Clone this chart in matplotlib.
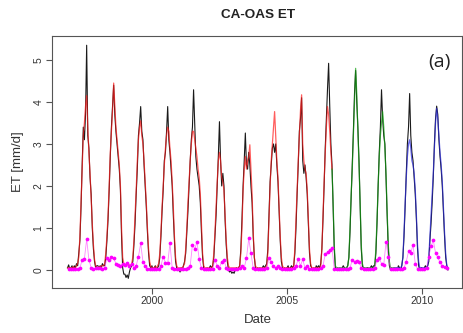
import matplotlib
matplotlib.use('Agg')
import matplotlib.pyplot as plt
import numpy as np

# Semi-monthly series (24 per year), starting at 1996.875
obs_start = 1996.875
et_obs = [
    0.05, 0.12, 0.02,  # 1996 tail
    0.05, 0.1, 0.0, 0.1, 0.05, 0.15, 0.1, 0.4, 0.7, 1.5, 2.5, 3.4, 3.1, 3.7, 5.35, 3.2, 2.9, 2.2, 1.8, 1.0, 0.5, 0.2, 0.05, 0.1,  # 1997
    0.1, 0.05, 0.1, 0.05, 0.15, 0.1, 0.1, 0.3, 0.7, 1.2, 1.9, 2.7, 3.4, 3.9, 4.4, 3.7, 3.3, 3.0, 2.7, 2.4, 1.9, 0.8, 0.05, -0.1,  # 1998
    -0.1, -0.18, -0.12, -0.2, -0.05, 0.05, 0.1, 0.2, 0.6, 1.1, 1.8, 2.4, 3.2, 3.5, 3.89, 3.3, 3.1, 2.5, 2.0, 1.5, 0.9, 0.4, 0.1, 0.05,  # 1999
    0.1, 0.0, 0.05, 0.1, 0.0, 0.05, 0.1, 0.3, 0.8, 1.4, 1.9, 2.6, 2.8, 3.3, 3.89, 3.1, 2.8, 2.4, 2.0, 1.3, 0.7, 0.2, 0.05, 0.0,  # 2000
    0.0, -0.05, 0.05, 0.0, 0.1, 0.2, 0.4, 0.9, 1.4, 2.0, 2.6, 3.1, 3.4, 4.29, 3.5, 2.7, 2.4, 2.2, 2.0, 1.6, 0.9, 0.3, 0.05, 0.0,  # 2001
    0.0, 0.05, 0.0, 0.05, 0.1, 0.05, 0.1, 0.3, 0.8, 1.3, 2.0, 2.7, 3.53, 2.6, 2.0, 2.3, 2.0, 1.2, 0.6, 0.2, 0.0, -0.05, -0.02, -0.08,  # 2002
    -0.05, -0.08, 0.0, 0.05, 0.0, 0.05, 0.1, 0.5, 1.2, 2.0, 2.6, 3.26, 2.5, 2.4, 2.8, 2.5, 2.0, 1.6, 0.8, 0.3, 0.05, 0.0, 0.05, 0.0,  # 2003
    0.05, 0.0, 0.05, 0.1, 0.05, 0.1, 0.15, 0.5, 1.3, 2.1, 2.5, 2.9, 3.0, 2.8, 3.0, 2.5, 2.1, 1.4, 0.7, 0.2, 0.05, 0.0, 0.05, 0.0,  # 2004
    0.05, 0.1, 0.0, 0.05, 0.1, 0.05, 0.1, 0.4, 1.0, 1.8, 2.5, 3.3, 3.6, 4.1, 2.6, 2.3, 2.5, 2.2, 1.8, 1.1, 0.4, 0.1, 0.05, 0.0,  # 2005
    0.05, 0.0, 0.1, 0.05, 0.1, 0.05, 0.15, 0.5, 1.2, 2.0, 2.9, 3.6, 4.3, 4.92, 3.9, 3.0, 2.5, 1.5, 0.5, 0.05, 0.0, 0.05, 0.0, 0.05,  # 2006
    0.0, 0.05, 0.1, 0.05, 0.0, 0.05, 0.1, 0.3, 0.9, 1.7, 2.5, 3.3, 4.2, 4.75, 4.0, 3.4, 2.6, 1.5, 0.5, 0.1, 0.0, 0.05, 0.0, 0.05,  # 2007
    0.05, 0.0, 0.05, 0.1, 0.05, 0.1, 0.1, 0.4, 1.1, 2.0, 2.8, 3.4, 4.29, 3.6, 3.2, 3.0, 2.2, 1.3, 0.5, 0.1, 0.0, 0.05, 0.0, 0.05,  # 2008
    0.0, 0.05, 0.0, 0.1, 0.05, 0.0, 0.1, 0.3, 0.8, 1.5, 2.3, 3.0, 3.4, 4.2, 3.2, 2.8, 2.6, 2.2, 1.8, 1.2, 0.5, 0.1, 0.0, 0.05,  # 2009
    0.05, 0.0, 0.05, 0.1, 0.05, 0.1, 0.2, 0.7, 1.1, 1.6, 2.2, 3.0, 3.6, 3.9, 3.7, 3.1, 2.7, 2.4, 2.0, 1.4, 0.8, 0.3, 0.1, 0.0,  # 2010
]
et_model = [
    0.05, 0.05, 0.05,  # 1996 tail
    0.05, 0.05, 0.08, 0.05, 0.05, 0.1, 0.15, 0.3, 0.8, 1.6, 2.4, 3.2, 3.5, 3.9, 4.15, 3.4, 2.8, 2.3, 1.7, 1.1, 0.6, 0.25, 0.1, 0.05,  # 1997
    0.05, 0.08, 0.05, 0.1, 0.1, 0.1, 0.15, 0.4, 0.8, 1.3, 2.0, 2.8, 3.3, 3.8, 4.45, 3.9, 3.4, 3.1, 2.8, 2.5, 2.0, 1.0, 0.3, 0.15,  # 1998
    0.1, 0.12, 0.15, 0.1, 0.12, 0.1, 0.15, 0.3, 0.7, 1.3, 1.9, 2.6, 3.1, 3.4, 3.55, 3.2, 3.0, 2.6, 2.1, 1.6, 1.0, 0.5, 0.2, 0.08,  # 1999
    0.05, 0.05, 0.05, 0.08, 0.05, 0.1, 0.15, 0.4, 0.9, 1.5, 2.0, 2.5, 2.9, 3.2, 3.4, 3.3, 2.9, 2.6, 2.1, 1.5, 0.8, 0.3, 0.1, 0.05,  # 2000
    0.05, 0.05, 0.05, 0.05, 0.1, 0.15, 0.5, 1.0, 1.6, 2.1, 2.6, 3.0, 3.3, 3.3, 3.1, 2.9, 2.7, 2.4, 2.2, 1.8, 1.1, 0.4, 0.1, 0.05,  # 2001
    0.05, 0.05, 0.05, 0.05, 0.05, 0.05, 0.1, 0.4, 0.9, 1.5, 2.1, 2.6, 2.8, 2.6, 2.2, 2.1, 1.9, 1.3, 0.7, 0.3, 0.1, 0.05, 0.05, 0.05,  # 2002
    0.05, 0.05, 0.05, 0.05, 0.05, 0.05, 0.1, 0.4, 1.0, 1.9, 2.4, 2.7, 2.4, 2.6, 2.7, 2.98, 2.4, 1.8, 0.9, 0.3, 0.1, 0.05, 0.05, 0.05,  # 2003
    0.05, 0.05, 0.05, 0.05, 0.05, 0.05, 0.1, 0.4, 1.2, 2.0, 2.6, 3.0, 3.4, 3.77, 3.2, 2.6, 2.2, 1.5, 0.8, 0.3, 0.1, 0.05, 0.05, 0.05,  # 2004
    0.05, 0.05, 0.05, 0.05, 0.05, 0.05, 0.1, 0.5, 1.2, 1.9, 2.6, 3.2, 3.8, 4.17, 3.0, 2.6, 2.4, 2.3, 1.9, 1.2, 0.5, 0.15, 0.05, 0.05,  # 2005
    0.05, 0.05, 0.05, 0.05, 0.05, 0.05, 0.1, 0.5, 1.3, 2.1, 2.8, 3.4, 3.89, 3.7, 3.3, 2.8, 2.4, 1.6, 0.6, 0.1, 0.05, 0.05, 0.05, 0.05,  # 2006
    0.05, 0.05, 0.05, 0.05, 0.05, 0.05, 0.1, 0.3, 1.0, 1.8, 2.4, 3.2, 4.0, 4.8, 4.2, 3.3, 2.5, 1.6, 0.6, 0.15, 0.05, 0.05, 0.05, 0.05,  # 2007
    0.05, 0.05, 0.05, 0.05, 0.05, 0.05, 0.1, 0.5, 1.2, 2.0, 2.7, 3.2, 3.5, 3.77, 3.4, 2.9, 2.3, 1.4, 0.6, 0.2, 0.05, 0.05, 0.05, 0.05,  # 2008
    0.05, 0.05, 0.05, 0.05, 0.05, 0.05, 0.1, 0.3, 0.9, 1.6, 2.2, 2.7, 3.0, 3.1, 2.9, 2.6, 2.5, 2.3, 1.9, 1.3, 0.6, 0.2, 0.05, 0.05,  # 2009
    0.05, 0.05, 0.05, 0.05, 0.05, 0.1, 0.3, 0.8, 1.3, 1.8, 2.3, 2.9, 3.5, 3.85, 3.6, 3.2, 2.8, 2.5, 2.1, 1.5, 0.9, 0.4, 0.1, 0.05,  # 2010
]
# model runs: calibration (red), then two validation periods
period_breaks = [2006.65, 2009.0]
period_colors = ['#ff1a1a', '#10a010', '#2a2ae0']

# Monthly series (pink dots), starting at 1996.917
other_start = 1996.917
et_other = [
    0.03,
    0.02, 0.03, 0.02, 0.03, 0.05, 0.24, 0.27, 0.73, 0.24, 0.05, 0.03, 0.04,  # 1997
    0.04, 0.05, 0.03, 0.05, 0.28, 0.24, 0.30, 0.28, 0.15, 0.12, 0.1, 0.15,  # 1998
    0.12, 0.17, 0.1, 0.15, 0.05, 0.1, 0.32, 0.63, 0.2, 0.1, 0.03, 0.02,  # 1999
    0.02, 0.03, 0.02, 0.02, 0.1, 0.32, 0.17, 0.16, 0.63, 0.05, 0.02, 0.03,  # 2000
    0.02, 0.02, 0.03, 0.03, 0.05, 0.1, 0.6, 0.5, 0.66, 0.26, 0.04, 0.02,  # 2001
    0.02, 0.03, 0.02, 0.02, 0.24, 0.1, 0.05, 0.2, 0.24, 0.05, 0.03, 0.02,  # 2002
    0.02, 0.03, 0.02, 0.05, 0.1, 0.05, 0.28, 0.75, 0.4, 0.04, 0.03, 0.02,  # 2003
    0.02, 0.02, 0.03, 0.05, 0.28, 0.2, 0.1, 0.05, 0.1, 0.05, 0.02, 0.03,  # 2004
    0.02, 0.03, 0.02, 0.05, 0.1, 0.25, 0.1, 0.25, 0.05, 0.1, 0.03, 0.02,  # 2005
    0.02, 0.03, 0.02, 0.05, 0.1, 0.38, 0.43, 0.47, 0.52, 0.03, 0.02, 0.03,  # 2006
    0.02, 0.02, 0.03, 0.02, 0.05, 0.24, 0.2, 0.22, 0.19, 0.05, 0.02, 0.03,  # 2007
    0.02, 0.03, 0.02, 0.05, 0.24, 0.28, 0.15, 0.12, 0.67, 0.3, 0.03, 0.02,  # 2008
    0.02, 0.03, 0.02, 0.03, 0.05, 0.2, 0.44, 0.4, 0.6, 0.15, 0.02, 0.03,  # 2009
    0.02, 0.03, 0.05, 0.32, 0.56, 0.71, 0.4, 0.3, 0.18, 0.1, 0.08, 0.04,  # 2010
]

t_obs = obs_start + np.arange(len(et_obs)) / 24.0
t_other = other_start + np.arange(len(et_other)) / 12.0
et_obs = np.array(et_obs)
et_model = np.array(et_model)

plt.rcParams['font.family'] = ['Liberation Sans', 'DejaVu Sans']

fig = plt.figure(figsize=(4.63, 3.33), dpi=100)
W, H = 463, 333
ax = fig.add_axes([52 / W, (H - 288) / H, (462 - 52) / W, (288 - 36) / H])

ax.plot(t_obs, et_obs, color='#1a1a1a', linewidth=0.8, zorder=2)

edges = [-np.inf] + period_breaks + [np.inf]
for c, lo, hi in zip(period_colors, edges[:-1], edges[1:]):
    idx = np.where((t_obs >= lo) & (t_obs < hi))[0]
    if idx[-1] + 1 < len(t_obs):
        idx = np.append(idx, idx[-1] + 1)
    ax.plot(t_obs[idx], et_model[idx], color=c, linewidth=0.9, alpha=0.7, zorder=3)

ax.plot(t_other, et_other, color='#ff33ff', linewidth=0.6, alpha=0.6, zorder=4)
ax.plot(t_other, et_other, linestyle='none', marker='o', markersize=2.7,
        color='#ff00ff', markeredgewidth=0, zorder=5)

ax.set_xlim(1996.30, 2011.48)
ax.set_ylim(-0.43, 5.57)
ax.set_xticks([2000, 2005, 2010])
ax.set_yticks([0, 1, 2, 3, 4, 5])
ax.tick_params(axis='both', labelsize=7.5, colors='#555555', labelcolor='#333333',
               length=4, width=0.8, pad=2)
for lab in ax.get_yticklabels():
    lab.set_rotation(90)
    lab.set_va('center')
for s in ax.spines.values():
    s.set_color('#555555')
    s.set_linewidth(0.8)

fig.text(258 / W, 1 - 15 / H, 'CA-OAS ET', ha='center', va='center',
         fontsize=9.7, fontweight='bold', color='#222222')
fig.text(18 / W, 1 - 162 / H, 'ET [mm/d]', ha='center', va='center',
         rotation=90, fontsize=9.5, color='#333333')
fig.text(258 / W, 1 - 320 / H, 'Date', ha='center', va='center',
         fontsize=9.5, color='#333333')
fig.text(439 / W, 1 - 62 / H, '(a)', ha='center', va='center',
         fontsize=14, color='#222222', family=['Open Sans', 'DejaVu Sans'])

fig.savefig('out.png', dpi=100)
